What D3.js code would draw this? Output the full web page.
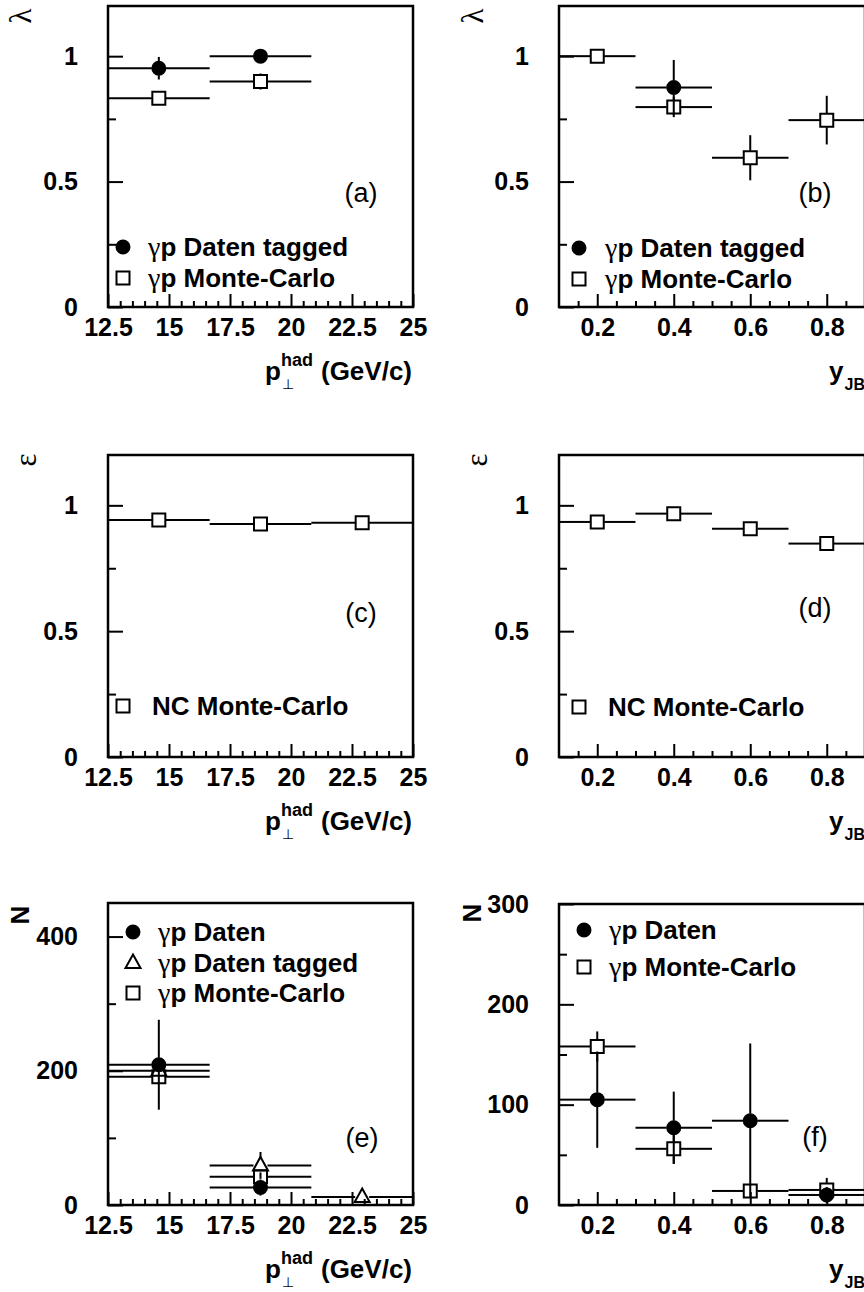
<!DOCTYPE html>
<html>
<head>
<meta charset="utf-8">
<title>lambda / epsilon / N</title>
<script src="https://d3js.org/d3.v7.min.js"></script>
<style>
  body { margin: 0; background: #fff; }
</style>
</head>
<body>
<script>
// ---- data ----
var ptCenters = [14.583, 18.75, 22.917];
var ptHalf = 2.0833;
var yjbCenters = [0.2, 0.4, 0.6, 0.8];
var yjbHalf = 0.1;

var ptTicks = [12.5, 15, 17.5, 20, 22.5, 25];
var yjbTicks = [0.2, 0.4, 0.6, 0.8];
var effTicks = [0, 0.5, 1];
var effMinor = [0.25, 0.75];
var nPtTicks = [0, 200, 400];
var nPtMinor = [100, 300];
var nYTicks = [0, 100, 200, 300];
var nYMinor = [50, 150, 250];

// (a) lambda vs pt
var lamPtTagged = [0.952, 1.0];
var lamPtTaggedErr = [0.045, 0.012];
var lamPtMC = [0.832, 0.899];
var lamPtMCErr = [0.012, 0.032];
// (b) lambda vs y_JB
var lamYTaggedX = [0.4];
var lamYTagged = [0.875];
var lamYTaggedErr = [0.11];
var lamYMC = [1.0, 0.797, 0.595, 0.745];
var lamYMCErr = [0.01, 0.04, 0.09, 0.097];
// (c) epsilon vs pt
var epsPtNC = [0.942, 0.926, 0.931];
var epsPtNCErr = [0.006, 0.006, 0.006];
// (d) epsilon vs y_JB
var epsYNC = [0.934, 0.967, 0.907, 0.848];
var epsYNCErr = [0.006, 0.006, 0.006, 0.006];
// (e) N vs pt
var nPtDaten = [209, 26];
var nPtDatenErr = [67, 12];
var nPtTagged = [200, 59, 12];
var nPtTaggedErr = [6, 20, 4];
var nPtMC = [191, 42];
var nPtMCErr = [5, 8];
// (f) N vs y_JB
var nYDaten = [105, 77, 84, 10];
var nYDatenErr = [48, 36, 77, 8];
var nYMC = [158, 56, 14, 15];
var nYMCErr = [15, 15, 3, 12];

var FONT = "'Liberation Sans', Arial, Helvetica, sans-serif";
var SERIF = "'Liberation Serif', 'DejaVu Serif', serif";

var svg = d3.select("body").append("svg")
    .attr("width", 864).attr("height", 1292)
    .style("display", "block");

var markerPath = {
  circle: d3.symbol().type(d3.symbolCircle).size(133)(),
  square: "M-6.5,-6.5h13v13h-13z",
  triangle: "M0,-8.5L7.5,5L-7.5,5Z"
};
var markerFill = { circle: "#000", square: "none", triangle: "none" };

function drawMarker(sel, type) {
  sel.attr("d", markerPath[type])
     .attr("fill", markerFill[type])
     .attr("stroke", "#000")
     .attr("stroke-width", 2);
}

function styleAxis(sel) {
  sel.select(".domain").remove();
  sel.selectAll(".tick line").attr("stroke", "#000").attr("stroke-width", 2);
  sel.selectAll("text").attr("fill", "#000")
     .style("font-family", FONT).style("font-weight", "bold").style("font-size", "25px");
}

function drawPanel(p) {
  var b = p.box; // left, top, right, bottom
  var x = d3.scaleLinear().domain(p.xDomain).range([b[0], b[2]]);
  var y = d3.scaleLinear().domain(p.yDomain).range([b[3], b[1]]);
  var g = svg.append("g");

  // axes: minor and major ticks pointing inward
  g.append("g").attr("transform", "translate(0," + b[3] + ")")
    .call(d3.axisBottom(x).tickValues(p.xMinor).tickSizeInner(-6).tickSizeOuter(0).tickFormat(""))
    .call(styleAxis);
  g.append("g").attr("transform", "translate(0," + b[3] + ")")
    .call(d3.axisBottom(x).tickValues(p.xMajor).tickSizeInner(-13).tickSizeOuter(0)
          .tickPadding(11).tickFormat(d3.format("")))
    .call(styleAxis);
  g.append("g").attr("transform", "translate(" + b[0] + ",0)")
    .call(d3.axisLeft(y).tickValues(p.yMinor).tickSizeInner(-8).tickSizeOuter(0).tickFormat(""))
    .call(styleAxis);
  g.append("g").attr("transform", "translate(" + b[0] + ",0)")
    .call(d3.axisLeft(y).tickValues(p.yMajor).tickSizeInner(-15).tickSizeOuter(0)
          .tickPadding(30).tickFormat(d3.format("")))
    .call(styleAxis);

  // data with error bars (gap round the marker, like ROOT)
  p.series.forEach(function(s) {
    var gap = 7;
    var pts = s.x.map(function(xv, i) { return { x: xv, y: s.y[i], e: s.err[i] }; });
    var segs = [];
    pts.forEach(function(d) {
      var cx = x(d.x), cy = y(d.y);
      segs.push([x(d.x - s.half), cy, cx - gap, cy]);
      segs.push([cx + gap, cy, x(d.x + s.half), cy]);
      var top = y(d.y + d.e), bot = y(d.y - d.e);
      if (cy - top > gap) segs.push([cx, top, cx, cy - gap]);
      if (bot - cy > gap) segs.push([cx, cy + gap, cx, bot]);
    });
    g.append("g").selectAll("line").data(segs).join("line")
      .attr("x1", function(d) { return d[0]; }).attr("y1", function(d) { return d[1]; })
      .attr("x2", function(d) { return d[2]; }).attr("y2", function(d) { return d[3]; })
      .attr("stroke", "#000").attr("stroke-width", 2);
    g.append("g").selectAll("path").data(pts).join("path")
      .attr("transform", function(d) { return "translate(" + x(d.x) + "," + y(d.y) + ")"; })
      .call(drawMarker, s.marker);
  });

  // legend
  var lg = g.append("g");
  p.legend.entries.forEach(function(en, i) {
    var ly = p.legend.y[i];
    lg.append("path").attr("transform", "translate(" + p.legend.mx + "," + ly + ")")
      .call(drawMarker, en.marker);
    var t = lg.append("text").attr("x", p.legend.tx).attr("y", ly).attr("dy", "0.36em")
      .attr("fill", "#000")
      .style("font-family", FONT).style("font-weight", "bold").style("font-size", "26px");
    if (en.gamma) {
      t.append("tspan").style("font-family", SERIF)
        .style("font-weight", "normal").style("font-size", "28px").text("\u03b3");
    }
    t.append("tspan").text(en.label);
  });

  // panel tag
  g.append("text").attr("x", p.tag[0]).attr("y", p.tag[1]).attr("dy", "0.35em")
    .attr("text-anchor", "middle").attr("fill", "#000")
    .style("font-family", FONT).style("font-size", "27px").style("font-weight", "normal")
    .text(p.tagText);

  // y title
  g.append("text")
    .attr("transform", "translate(" + p.yTitlePos[0] + "," + p.yTitlePos[1] + ") rotate(-90)")
    .attr("text-anchor", "middle").attr("dy", "0.35em").attr("fill", "#000")
    .style("font-family", p.yTitleBold ? FONT : SERIF)
    .style("font-weight", p.yTitleBold ? "bold" : "normal")
    .style("font-size", p.yTitleBold ? "26px" : "31px")
    .text(p.yTitle);

  // x title
  var base = b[3] + 73;
  if (p.xTitle === "pt") {
    var unit = g.append("text").attr("x", b[2] - 1).attr("y", base).attr("text-anchor", "end")
      .attr("fill", "#000")
      .style("font-family", FONT).style("font-weight", "bold").style("font-size", "26px")
      .text("(GeV/c)");
    var hadEnd = b[2] - 1 - unit.node().getComputedTextLength() - 8;
    var had = g.append("text").attr("x", hadEnd).attr("y", base - 14).attr("text-anchor", "end")
      .attr("fill", "#000")
      .style("font-family", FONT).style("font-weight", "bold").style("font-size", "18px")
      .text("had");
    var hadStart = hadEnd - had.node().getComputedTextLength();
    g.append("text").attr("x", hadStart).attr("y", base).attr("text-anchor", "end")
      .attr("fill", "#000")
      .style("font-family", FONT).style("font-weight", "bold").style("font-size", "26px")
      .text("p");
    g.append("text").attr("x", hadStart + 1).attr("y", base + 9).attr("fill", "#000")
      .style("font-family", "'DejaVu Sans', sans-serif").style("font-size", "14px")
      .text("\u22a5");
  } else {
    var jb = g.append("text").attr("x", b[2]).attr("y", base + 10).attr("text-anchor", "end")
      .attr("fill", "#000")
      .style("font-family", FONT).style("font-weight", "bold").style("font-size", "16px")
      .text("JB");
    g.append("text").attr("x", b[2] - jb.node().getComputedTextLength() - 1).attr("y", base)
      .attr("text-anchor", "end").attr("fill", "#000")
      .style("font-family", FONT).style("font-weight", "bold").style("font-size", "26px")
      .text("y");
  }

  // frame
  g.append("rect").attr("x", b[0]).attr("y", b[1])
    .attr("width", b[2] - b[0]).attr("height", b[3] - b[1])
    .attr("fill", "none").attr("stroke", "#000").attr("stroke-width", 2.5);
}

var ptMinor = d3.range(13, 25, 0.5).filter(function(v) { return v % 2.5 !== 0; });
var yjbMinor = [0.15, 0.25, 0.3, 0.35, 0.45, 0.5, 0.55, 0.65, 0.7, 0.75, 0.85];

var ptBase = { xDomain: [12.5, 25], xMajor: ptTicks, xMinor: ptMinor, xTitle: "pt" };
var yjbBase = { xDomain: [0.1, 0.9], xMajor: yjbTicks, xMinor: yjbMinor, xTitle: "yjb" };

function withBase(base, o) { return Object.assign({}, base, o); }

var panels = [
  withBase(ptBase, {
    box: [108, 6, 413, 307], yDomain: [0, 1.2], yMajor: effTicks, yMinor: effMinor,
    yTitle: "\u03bb", yTitlePos: [20, 16], tag: [361, 193], tagText: "(a)",
    series: [
      { x: ptCenters.slice(0, 2), y: lamPtTagged, err: lamPtTaggedErr, half: ptHalf, marker: "circle" },
      { x: ptCenters.slice(0, 2), y: lamPtMC, err: lamPtMCErr, half: ptHalf, marker: "square" }
    ],
    legend: { mx: 123, tx: 148, y: [247, 278], entries: [
      { marker: "circle", gamma: true, label: "p Daten tagged" },
      { marker: "square", gamma: true, label: "p Monte-Carlo" } ] }
  }),
  withBase(yjbBase, {
    box: [559, 6, 865, 307], yDomain: [0, 1.2], yMajor: effTicks, yMinor: effMinor,
    yTitle: "\u03bb", yTitlePos: [472, 16], tag: [815, 193], tagText: "(b)",
    series: [
      { x: lamYTaggedX, y: lamYTagged, err: lamYTaggedErr, half: yjbHalf, marker: "circle" },
      { x: yjbCenters, y: lamYMC, err: lamYMCErr, half: yjbHalf, marker: "square" }
    ],
    legend: { mx: 579, tx: 605, y: [248, 279], entries: [
      { marker: "circle", gamma: true, label: "p Daten tagged" },
      { marker: "square", gamma: true, label: "p Monte-Carlo" } ] }
  }),
  withBase(ptBase, {
    box: [108, 455, 413, 757], yDomain: [0, 1.2], yMajor: effTicks, yMinor: effMinor,
    yTitle: "\u03b5", yTitlePos: [25, 460], tag: [361, 613], tagText: "(c)",
    series: [
      { x: ptCenters, y: epsPtNC, err: epsPtNCErr, half: ptHalf, marker: "square" }
    ],
    legend: { mx: 123, tx: 152, y: [706], entries: [
      { marker: "square", gamma: false, label: "NC Monte-Carlo" } ] }
  }),
  withBase(yjbBase, {
    box: [559, 455, 865, 757], yDomain: [0, 1.2], yMajor: effTicks, yMinor: effMinor,
    yTitle: "\u03b5", yTitlePos: [476, 460], tag: [815, 608], tagText: "(d)",
    series: [
      { x: yjbCenters, y: epsYNC, err: epsYNCErr, half: yjbHalf, marker: "square" }
    ],
    legend: { mx: 579, tx: 608, y: [707], entries: [
      { marker: "square", gamma: false, label: "NC Monte-Carlo" } ] }
  }),
  withBase(ptBase, {
    box: [108, 903, 413, 1205], yDomain: [0, 450], yMajor: nPtTicks, yMinor: nPtMinor,
    yTitle: "N", yTitleBold: true, yTitlePos: [20, 915], tag: [362, 1138], tagText: "(e)",
    series: [
      { x: ptCenters.slice(0, 2), y: nPtDaten, err: nPtDatenErr, half: ptHalf, marker: "circle" },
      { x: ptCenters.slice(0, 2), y: nPtMC, err: nPtMCErr, half: ptHalf, marker: "square" },
      { x: ptCenters, y: nPtTagged, err: nPtTaggedErr, half: ptHalf, marker: "triangle" }
    ],
    legend: { mx: 133, tx: 158, y: [932, 963, 993], entries: [
      { marker: "circle", gamma: true, label: "p Daten" },
      { marker: "triangle", gamma: true, label: "p Daten tagged" },
      { marker: "square", gamma: true, label: "p Monte-Carlo" } ] }
  }),
  withBase(yjbBase, {
    box: [559, 904, 865, 1205], yDomain: [0, 300], yMajor: nYTicks, yMinor: nYMinor,
    yTitle: "N", yTitleBold: true, yTitlePos: [472, 913], tag: [815, 1137], tagText: "(f)",
    series: [
      { x: yjbCenters, y: nYDaten, err: nYDatenErr, half: yjbHalf, marker: "circle" },
      { x: yjbCenters, y: nYMC, err: nYMCErr, half: yjbHalf, marker: "square" }
    ],
    legend: { mx: 584, tx: 609, y: [930, 967], entries: [
      { marker: "circle", gamma: true, label: "p Daten" },
      { marker: "square", gamma: true, label: "p Monte-Carlo" } ] }
  })
];

panels.forEach(drawPanel);
</script>
</body>
</html>
